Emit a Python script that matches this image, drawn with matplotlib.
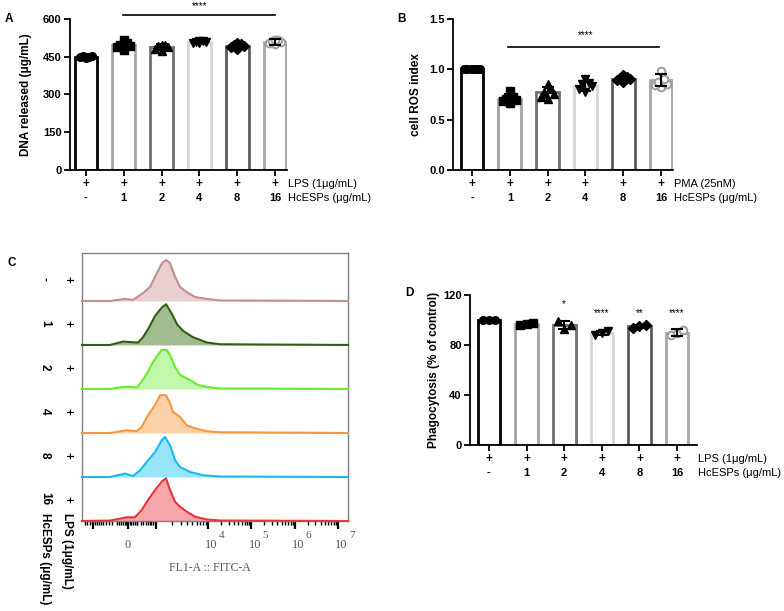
import numpy as np
import matplotlib
matplotlib.use('Agg')
import matplotlib.pyplot as plt
from matplotlib.transforms import blended_transform_factory as btf

plt.rcParams['font.family'] = ['Liberation Sans', 'DejaVu Sans']

W, H = 784, 611
fig = plt.figure(figsize=(W / 100, H / 100), dpi=100)

# ---------------- data ----------------
groups = ['-', '1', '2', '4', '8', '16']

a_means = [450, 496, 489, 508, 494, 510]
a_sd = [4, 12, 10, 5, 10, 12]
a_pts = [[446, 449, 451, 453, 450, 448],
         [478, 488, 492, 498, 503, 516],
         [472, 482, 488, 492, 495, 498],
         [503, 506, 508, 510, 512, 514],
         [480, 488, 494, 498, 502, 506],
         [500, 505, 510, 514, 516, 518]]

b_means = [1.0, 0.71, 0.77, 0.835, 0.90, 0.89]
b_sd = [0.0, 0.04, 0.05, 0.05, 0.025, 0.06]
b_pts = [[1.0, 1.0, 1.0, 1.0, 1.0, 1.0],
         [0.67, 0.69, 0.70, 0.71, 0.73, 0.78],
         [0.71, 0.73, 0.75, 0.77, 0.80, 0.85],
         [0.77, 0.80, 0.83, 0.85, 0.86, 0.90],
         [0.87, 0.89, 0.90, 0.91, 0.92, 0.94],
         [0.82, 0.84, 0.85, 0.87, 0.90, 0.98]]

d_means = [100, 97, 96, 89.5, 95, 90]
d_sd = [0.0, 1.0, 3.5, 1.5, 1.0, 2.5]
d_pts = [[100, 100, 100],
         [96, 97, 98],
         [99, 93, 96],
         [88, 89.5, 91],
         [94, 95, 96],
         [88, 90, 92]]
d_stars = ['', '', '*', '****', '**', '****']
d_star_y = [0, 0, 108.5, 101.5, 101.5, 101.5]

# flow cytometry histograms (x in display decades, height in row units)
hist_x = [
    [1.09, 1.737, 2.083, 2.268, 2.499, 2.661, 2.822, 2.938, 3.030, 3.122, 3.238, 3.353, 3.538, 3.700, 3.977, 4.277, 7.233],
    [1.09, 1.737, 2.037, 2.383, 2.499, 2.614, 2.776, 2.938, 3.030, 3.169, 3.284, 3.423, 3.654, 3.977, 4.277, 7.233],
    [1.09, 1.737, 2.083, 2.360, 2.469, 2.614, 2.730, 2.891, 2.931, 3.046, 3.122, 3.238, 3.353, 3.584, 3.769, 3.977, 4.277, 7.233],
    [1.09, 1.737, 2.122, 2.353, 2.469, 2.614, 2.776, 2.891, 3.030, 3.122, 3.192, 3.353, 3.508, 3.700, 3.977, 4.277, 7.233],
    [1.09, 1.737, 2.083, 2.268, 2.430, 2.584, 2.776, 2.931, 3.007, 3.122, 3.238, 3.353, 3.584, 3.885, 4.277, 7.233],
    [1.09, 1.737, 1.891, 2.122, 2.314, 2.469, 2.614, 2.776, 2.931, 3.030, 3.122, 3.238, 3.353, 3.508, 3.700, 3.970, 4.277, 7.233],
]
hist_h = [
    [0, 0, 0.045, 0.023, 0.18, 0.32, 0.64, 0.86, 0.93, 0.86, 0.55, 0.32, 0.18, 0.09, 0.045, 0.011, 0],
    [0, 0, 0.077, 0.055, 0.175, 0.357, 0.66, 0.857, 0.925, 0.70, 0.47, 0.32, 0.175, 0.055, 0.016, 0],
    [0, 0, 0.052, 0.039, 0.166, 0.393, 0.614, 0.84, 0.886, 0.886, 0.773, 0.50, 0.318, 0.205, 0.091, 0.045, 0.011, 0],
    [0, 0, 0.061, 0.039, 0.136, 0.402, 0.63, 0.857, 0.857, 0.675, 0.477, 0.364, 0.175, 0.107, 0.039, 0.016, 0],
    [0, 0, 0.077, 0.023, 0.152, 0.341, 0.568, 0.834, 0.909, 0.72, 0.38, 0.227, 0.114, 0.039, 0.011, 0],
    [0, 0.01, 0.039, 0.084, 0.084, 0.25, 0.477, 0.705, 0.893, 0.97, 0.705, 0.439, 0.325, 0.211, 0.098, 0.034, 0.011, 0],
]
hist_line = ['#c48e8e', '#2f5f12', '#66ee2e', '#f7963c', '#19b9ef', '#e8343c']
hist_fill = ['#e9cfcf', '#a3bc8f', '#c2f8ab', '#fcd2a8', '#97e5fb', '#f7a6aa']
c_rows = ['-', '1', '2', '4', '8', '16']
c_tick_labels = ['0', '4', '5', '6', '7']
c_tick_pos = [2.152, 4, 5, 6, 7]

bar_colors = ['#000000', '#a3a3a3', '#707070', '#d6d6d6', '#5c5c5c', '#a8a8a8']
markers = ['o', 's', '^', 'v', 'D', 'o']

JIT6 = [0.0, -0.17, 0.17, -0.09, 0.09, 0.0]
JIT3 = [-0.17, 0.0, 0.17]


def px_axes(l, t, r, b):
    return fig.add_axes([l / W, 1 - b / H, (r - l) / W, (b - t) / H])


def bar_panel(ax, means, sds, pts, ylim, yticks, yticklabels, ylabel, xlim,
              treat, lab_x):
    x = np.arange(len(groups))
    ax.bar(x, means, width=0.6, facecolor='white', edgecolor=bar_colors,
           linewidth=2.0, zorder=2)
    for i, p in enumerate(pts):
        n = len(p)
        if n == 6 and len(set(p)) == 1:
            offs = np.array([-0.2, -0.12, -0.04, 0.04, 0.12, 0.2])
        elif n == 6:
            offs = np.array(JIT6)
        else:
            offs = np.array(JIT3)
        if i == 5:
            ax.plot(x[i] + offs, p, 'o', mfc='white', mec='#a0a0a0', mew=1.5,
                    ms=5.5, ls='none', zorder=3, clip_on=False)
        else:
            ms = 5 if markers[i] == 'D' else 5.5
            ax.plot(x[i] + offs, p, marker=markers[i], color='black', ms=ms,
                    ls='none', zorder=3, clip_on=False)
    ax.errorbar(x, means, yerr=sds, fmt='none', ecolor='black', elinewidth=1.5,
                capsize=4.5, capthick=1.5, zorder=4)
    ax.set_xlim(xlim)
    ax.set_ylim(ylim)
    for s in ['top', 'right']:
        ax.spines[s].set_visible(False)
    for s in ['left', 'bottom']:
        ax.spines[s].set_linewidth(1.3)
    ax.set_yticks(yticks)
    ax.set_yticklabels(yticklabels, fontweight='bold', fontsize=8)
    ax.set_xticks(x)
    ax.set_xticklabels([])
    ax.tick_params(length=4, width=1.3, pad=2)
    ax.set_ylabel(ylabel, fontweight='bold', fontsize=8.5)
    ax.yaxis.set_label_coords(lab_x, 0.5)
    for i in x:
        ax.annotate('+', xy=(i, 0), xycoords=('data', 'axes fraction'),
                    xytext=(0, -10), textcoords='offset points', ha='center',
                    va='center', fontweight='bold', fontsize=8.5)
        ax.annotate(groups[i], xy=(i, 0), xycoords=('data', 'axes fraction'),
                    xytext=(0, -20), textcoords='offset points', ha='center',
                    va='center', fontweight='bold', fontsize=8)
    ax.annotate(treat, xy=(1, 0), xycoords='axes fraction', xytext=(1, -10),
                textcoords='offset points', ha='left', va='center', fontsize=8)
    ax.annotate('HcESPs (\u03bcg/mL)', xy=(1, 0), xycoords='axes fraction',
                xytext=(1, -20), textcoords='offset points', ha='left',
                va='center', fontsize=8)


# ---------------- Panel A ----------------
axA = px_axes(70, 19, 287, 170)
bar_panel(axA, a_means, a_sd, a_pts, (0, 600), [0, 150, 300, 450, 600],
          ['0', '150', '300', '450', '600'], 'DNA released (\u03bcg/mL)',
          (-0.423, 5.317), 'LPS (1\u03bcg/mL)', -0.175)
axA.plot([0.98, 5.0], [617, 617], color='black', lw=1.2, clip_on=False)
axA.text(3.0, 632, '****', ha='center', va='bottom', fontsize=7, clip_on=False)

# ---------------- Panel B ----------------
axB = px_axes(453, 19, 673, 170)
bar_panel(axB, b_means, b_sd, b_pts, (0, 1.5), [0, 0.5, 1.0, 1.5],
          ['0.0', '0.5', '1.0', '1.5'], 'cell ROS index',
          (-0.503, 5.317), 'PMA (25nM)', -0.141)
axB.plot([0.95, 4.95], [1.22, 1.22], color='black', lw=1.2)
axB.text(3.0, 1.29, '****', ha='center', va='bottom', fontsize=7)

# ---------------- Panel D ----------------
axD = px_axes(470, 295, 697, 445)
bar_panel(axD, d_means, d_sd, d_pts, (0, 120), [0, 40, 80, 120],
          ['0', '40', '80', '120'], 'Phagocytosis (% of control)',
          (-0.505, 5.53), 'LPS (1\u03bcg/mL)', -0.132)
for i, s in enumerate(d_stars):
    if s:
        axD.text(i, d_star_y[i], s, ha='center', va='bottom', fontsize=7)

# ---------------- Panel C ----------------
axC = px_axes(82, 253, 348, 521)
axC.set_xlim(1.09, 7.23)
axC.set_ylim(0, 6.09)
for i in range(6):
    base = 5 - i
    xs = np.array(hist_x[i])
    hs = np.array(hist_h[i])
    axC.fill_between(xs, base, base + hs, color=hist_fill[i], lw=0, zorder=2)
    axC.plot(xs, base + hs, color=hist_line[i], lw=1.5, zorder=3,
             solid_joinstyle='round', clip_on=False)
for s in axC.spines.values():
    s.set_color('#808080')
    s.set_linewidth(1.0)
axC.set_yticks([])
major_u = [1.344, 2.152, 2.799, 4, 5, 6, 7]
minor_u = []
for d in [4, 5, 6]:
    minor_u += [d + np.log10(k) for k in range(2, 10)]
minor_u += [2.799 + 1.201 * np.log10(k) for k in range(2, 10)]
minor_u += [2.152 + 0.647 * np.sqrt(k / 10) for k in range(1, 10)]
minor_u += [2.152 - 0.808 * np.sqrt(k / 10) for k in range(1, 10)]
minor_u += [2.152 + 0.04 * k for k in range(-5, 6)]
minor_u += [1.09 + 0.06 * k for k in range(1, 4)]
axC.set_xticks(major_u)
axC.set_xticks(minor_u, minor=True)
axC.tick_params(axis='x', which='major', length=6, width=1.6, color='black',
                labelbottom=False, direction='out')
axC.tick_params(axis='x', which='minor', length=3, width=1.0, color='black',
                direction='out')
tr = btf(axC.transData, fig.transFigure)
serif = ['Liberation Serif', 'DejaVu Serif']
for pos, lab in zip(c_tick_pos, c_tick_labels):
    if lab == '0':
        axC.text(pos, 1 - 545 / H, '0', transform=tr, ha='center', va='center',
                 fontsize=9, color='#555555', family=serif)
    else:
        axC.text(pos + 0.08, 1 - 545 / H, '10', transform=tr, ha='center',
                 va='center', fontsize=9, color='#555555', family=serif)
        axC.text(pos + 0.32, 1 - 535 / H, lab, transform=tr, ha='center',
                 va='center', fontsize=8, color='#555555', family=serif)
axC.text(0.48, 1 - 568 / H, 'FL1-A :: FITC-A', transform=btf(axC.transAxes, fig.transFigure),
         ha='center', va='center', fontsize=8.5, color='#555555', family=serif)

trC = btf(fig.transFigure, axC.transData)
for i, lab in enumerate(c_rows):
    yc = 5 - i + 0.5
    axC.text(45 / W, yc, lab, transform=trC, rotation=270, ha='center',
             va='center', fontsize=8.5, fontweight='bold')
    axC.text(67 / W, yc, '+', transform=trC, rotation=270, ha='center',
             va='center', fontsize=8.5, fontweight='bold')
fig.text(67 / W, 1 - 513 / H, 'LPS (1\u03bcg/mL)', rotation=270, ha='center',
         va='top', fontsize=8.5, fontweight='bold')
fig.text(45 / W, 1 - 513 / H, 'HcESPs (\u03bcg/mL)', rotation=270, ha='center',
         va='top', fontsize=8.5, fontweight='bold')

# panel letters
fig.text(5 / W, 1 - 19 / H, 'A', fontsize=8.5, fontweight='bold', va='center')
fig.text(397 / W, 1 - 19 / H, 'B', fontsize=8.5, fontweight='bold', va='center')
fig.text(8 / W, 1 - 263 / H, 'C', fontsize=8.5, fontweight='bold', va='center')
fig.text(405 / W, 1 - 293 / H, 'D', fontsize=8.5, fontweight='bold', va='center')

fig.savefig('out.png', dpi=100)
